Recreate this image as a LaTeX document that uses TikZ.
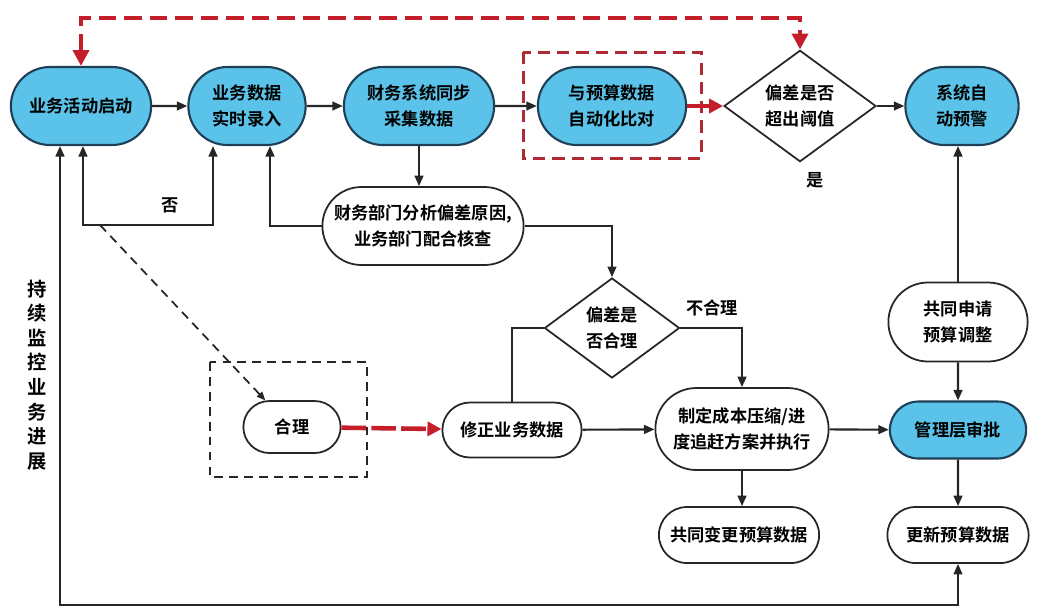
\documentclass[tikz,border=0pt]{standalone}
\usepackage{fontspec}
\setmainfont{Noto Sans CJK SC}[BoldFont={Noto Sans CJK SC Bold}]
\usetikzlibrary{shapes.geometric,shapes.misc,arrows.meta}
\definecolor{boxblue}{HTML}{5BC3E9}
\definecolor{boxline}{HTML}{1E3F55}
\definecolor{flowred}{HTML}{C41E2A}
\definecolor{dashred}{HTML}{B02A36}

\begin{document}
\begin{tikzpicture}[x=0.02cm, y=-0.02cm,
  every node/.style={font=\bfseries\fontsize{9.8}{15}\selectfont, align=center},
  bluebox/.style={rounded rectangle, draw=boxline, line width=1.2pt, fill=boxblue, minimum height=1.56cm},
  whitebox/.style={rounded rectangle, draw=black!85, line width=1pt, fill=white},
  decision/.style={diamond, draw=black!85, line width=1pt, fill=white, inner sep=0pt},
  flow/.style={draw=black!85, line width=1.2pt, -{Triangle[length=6pt,width=5pt]}},
  redflow/.style={draw=flowred, line width=2.2pt, -{Triangle[length=8pt,width=8pt]}},
  reddash/.style={draw=flowred, line width=2.4pt, dash pattern=on 10pt off 4.5pt},
  blackdash/.style={draw=black!85, line width=1pt, dash pattern=on 5pt off 3.5pt}]
\useasboundingbox (0,0) rectangle (1050,610);

% top row
\node[bluebox, minimum width=3.04cm] (n1) at (81,106) {业务活动启动};
\node[bluebox, minimum width=2.58cm] (n2) at (247,106) {业务数据\\实时录入};
\node[bluebox, minimum width=3.24cm] (n3) at (419,106) {财务系统同步\\采集数据};
\node[bluebox, minimum width=3.2cm] (n4) at (612,106) {与预算数据\\自动化比对};
\node[decision, minimum width=3.04cm, minimum height=2.2cm] (d1) at (800,106) {偏差是否\\超出阈值};
\node[bluebox, minimum width=2.5cm] (n6) at (962,106) {系统自\\动预警};
\draw[dashred, line width=1.7pt, dash pattern=on 7pt off 4pt] (523,52) rectangle (701,158);

% middle
\node[whitebox, minimum width=4.26cm, minimum height=1.56cm] (n7) at (423,226) {财务部门分析偏差原因,\\业务部门配合核查};
\node[decision, minimum width=2.7cm, minimum height=2cm] (d2) at (612,328) {偏差是\\否合理};
\node[whitebox, minimum width=3.02cm, minimum height=1.58cm] (sq) at (958,322) {共同申请\\预算调整};

% lower rows
\node[whitebox, minimum width=2.18cm, minimum height=1.04cm] (hl) at (292,427) {合理};
\draw[blackdash] (210,362) rectangle (367,477);
\node[whitebox, minimum width=3.02cm, minimum height=1.1cm] (xz) at (512,430) {修正业务数据};
\node[whitebox, minimum width=3.7cm, minimum height=1.64cm] (zd) at (742,429) {制定成本压缩/进\\度追赶方案并执行};
\node[bluebox, minimum width=2.96cm, minimum height=1.14cm] (gl) at (958,430) {管理层审批};
\node[whitebox, minimum width=3.44cm, minimum height=1.12cm] (bg) at (739,535) {共同变更预算数据};
\node[whitebox, minimum width=3.06cm, minimum height=1.12cm] (gx) at (958,535) {更新预算数据};

% connectors
\foreach \a/\b in {n1/n2,n2/n3,n3/n4,d1/n6,xz/zd,zd/gl,sq/gl,gl/gx}
{
  \draw[flow] (\a) -- (\b);
}
\draw[redflow] (n4) -- (d1);
\draw[reddash, {Triangle[length=9pt,width=9pt]}-{Triangle[length=9pt,width=9pt]}] (n1.north) |- (400,18) -| (d1.north);
\draw[flow] (n3.south) -- (n3.south |- n7.north);
\draw[flow] (n7.east) -| (d2.north);
\draw[flow] (n7.west) -| ([xshift=0.46cm]n2.south);
\coordinate (nocorner) at (100,225);
\draw[flow, {Triangle[length=6pt,width=5pt]}-{Triangle[length=6pt,width=5pt]}] ([xshift=-0.68cm]n2.south) |- (nocorner) -| ([xshift=0.04cm]n1.south);
\node (fou) at (170,205) {否};
\draw[blackdash, -{Triangle[length=5pt,width=4pt]}] (nocorner) -- (hl.135);
\draw[reddash, line width=2.6pt, dash pattern=on 14pt off 3pt, -{Triangle[length=8pt,width=8pt]}] (hl) -- (xz);
\draw[draw=black!85, line width=1.2pt] (d2.west) -| (xz.north);
\draw[flow] (d2.east) -| (zd.north);
\node (bhl) at (712,308) {不合理};
\draw[flow] (zd.south) -- (zd.south |- bg.north);
\draw[flow] (sq.north) -- (sq.north |- n6.south);
\node (shi) at (815,180) {是};
\draw[flow, {Triangle[length=6pt,width=5pt]}-{Triangle[length=6pt,width=5pt]}] ([xshift=-0.42cm]n1.south) |- (500,605) -| (gx.south);
\node[text width=1.2em, font=\bfseries\fontsize{11}{14}\selectfont] (jk) at (37,375) {持\\续\\监\\控\\业\\务\\进\\展};
\end{tikzpicture}
\end{document}
